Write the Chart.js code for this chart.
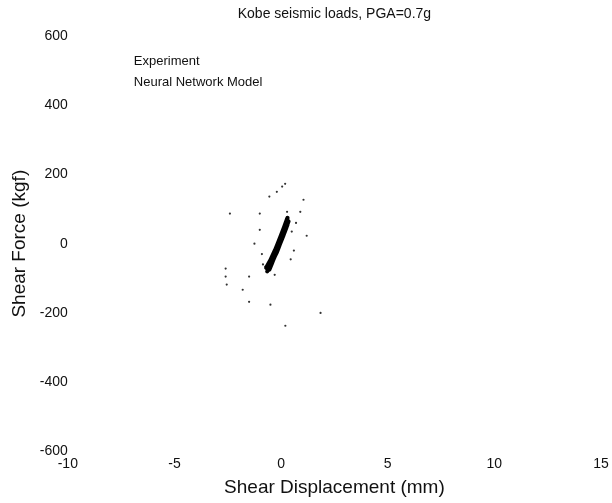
<!DOCTYPE html>
<html>
<head>
<meta charset="utf-8">
<script src="https://cdn.jsdelivr.net/npm/chart.js@4"></script>
<style>
  html, body { margin: 0; padding: 0; background: #fff; }
  #wrap { width: 612px; height: 503px; }
</style>
</head>
<body>
<div id="wrap"><canvas id="myChart" width="612" height="503"></canvas></div>
<script>
(() => {
    'use strict'

    const chartTitle = 'Kobe seismic loads, PGA=0.7g';

    // axis ticks
    const xTicks = [-10, -5, 0, 5, 10, 15];
    const yTicks = [-600, -400, -200, 0, 200, 400, 600];

    // dense core of the hysteresis loops (mm, kgf)
    const expX = [-0.6, -0.3, 0, 0.25, 0.3, 0.15, -0.1, -0.4, -0.7, -0.5, -0.2, 0.1, 0.35, 0.2, -0.05, -0.35, -0.55, -0.4, -0.1, 0.2, 0.1, -0.2, -0.5, -0.65, -0.3, 0.05, 0.3, 0.15, -0.15, -0.45, -0.6];
    const expY = [-60, -20, 20, 60, 75, 50, 10, -35, -70, -55, -10, 35, 65, 40, 0, -45, -75, -50, 0, 45, 25, -25, -60, -80, -30, 15, 55, 30, -15, -50, -65];

    // scattered outer loop points
    const nnX = [0.19, 0.05, -0.2, -0.55, -1.0, -2.4, -1.0, -1.25, 1.05, 0.9, 0.28, 1.2, -0.74, -2.6, -2.6, -2.55, -1.5, -1.8, -1.5, -0.5, 0.2, 1.85, 0.5, 0.6, -0.9, 0.7, 0.45, -0.85, -0.3];
    const nnY = [173, 165, 150, 136, 87, 87, 40, 0, 127, 92, 92, 23, -66, -72, -95, -118, -95, -133, -168, -176, -237, -200, 35, -20, -30, 60, -45, -60, -90];

    const toPoints = (xs, ys) => xs.map((x, i) => ({ x: x, y: ys[i] }));
    const font = '"Liberation Sans", Arial, sans-serif';

    // title over the plot and legend text inside it, as in the scanned figure
    const innerText = {
        id: 'innerText',
        afterDraw(chart) {
            const c = chart.ctx;
            const area = chart.chartArea;
            c.save();
            c.fillStyle = '#111';
            c.textBaseline = 'middle';
            c.textAlign = 'center';
            c.font = '14px ' + font;
            c.fillText(chartTitle, (area.left + area.right) / 2, 14);
            c.textAlign = 'left';
            c.font = '13px ' + font;
            chart.data.datasets.forEach((ds, i) => {
                c.fillText(ds.label, area.left + 66, 61 + i * 21);
            });
            c.restore();
        }
    };

    const ctx = document.getElementById('myChart');

    new Chart(ctx, {
        type: 'scatter',
        data: {
            datasets: [{
                label: 'Experiment',
                data: toPoints(expX, expY),
                showLine: true,
                borderColor: '#000',
                borderWidth: 4,
                pointRadius: 0,
                tension: 0.3
            }, {
                label: 'Neural Network Model',
                data: toPoints(nnX, nnY),
                showLine: false,
                backgroundColor: '#333',
                borderWidth: 0,
                pointRadius: 1.1
            }]
        },
        plugins: [innerText],
        options: {
            responsive: false,
            animation: false,
            layout: { padding: { top: 36, right: 0, bottom: 4, left: 4 } },
            plugins: {
                legend: { display: false },
                tooltip: { enabled: false },
                title: { display: false }
            },
            scales: {
                x: {
                    type: 'linear',
                    min: xTicks[0],
                    max: xTicks[xTicks.length - 1],
                    afterBuildTicks: (axis) => { axis.ticks = xTicks.map(v => ({ value: v })); },
                    afterFit: (axis) => { axis.paddingRight = 11; },
                    grid: { display: false, drawTicks: false },
                    border: { display: false },
                    ticks: {
                        color: '#111',
                        padding: 4,
                        maxRotation: 0,
                        font: { family: font, size: 14 }
                    },
                    title: {
                        display: true,
                        text: 'Shear Displacement (mm)',
                        color: '#111',
                        padding: { top: 0, bottom: 0 },
                        font: { family: font, size: 19 }
                    }
                },
                y: {
                    type: 'linear',
                    min: yTicks[0],
                    max: yTicks[yTicks.length - 1],
                    afterBuildTicks: (axis) => { axis.ticks = yTicks.map(v => ({ value: v })); },
                    grid: { display: false, drawTicks: false },
                    border: { display: false },
                    ticks: {
                        color: '#111',
                        padding: 0,
                        font: { family: font, size: 14 }
                    },
                    title: {
                        display: true,
                        text: 'Shear Force (kgf)',
                        color: '#111',
                        padding: { bottom: 9 },
                        font: { family: font, size: 19 }
                    }
                }
            }
        }
    })
})()
</script>
</body>
</html>
